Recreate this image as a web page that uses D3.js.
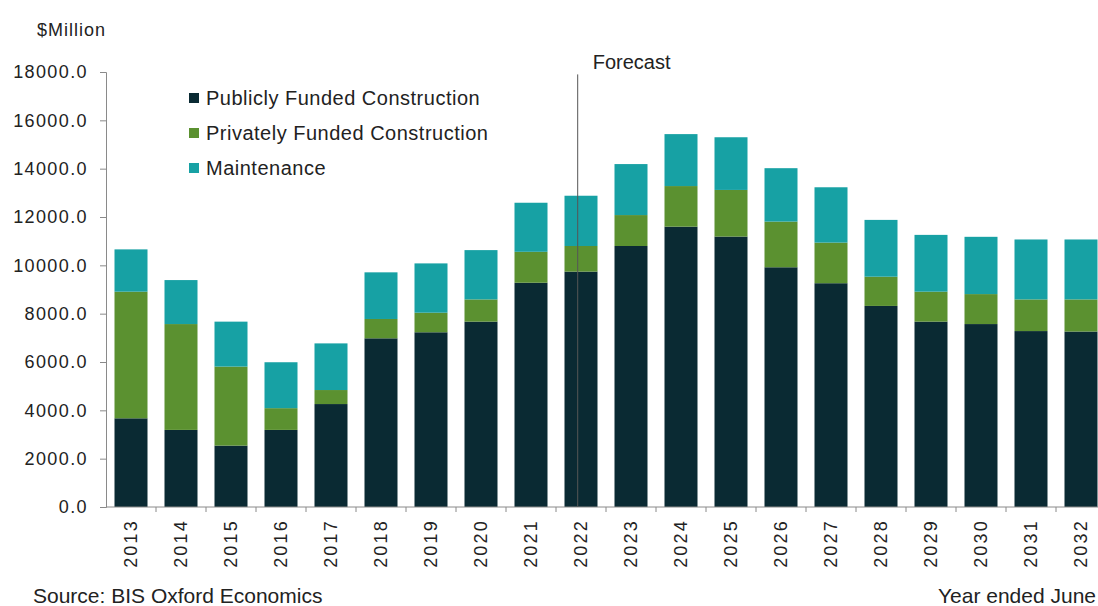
<!DOCTYPE html>
<html>
<head>
<meta charset="utf-8">
<script src="https://cdn.jsdelivr.net/npm/d3@7"></script>
<style>
  body { margin: 0; background: #fff; }
  svg { display: block; font-family: "Liberation Sans", Arial, sans-serif; }
</style>
</head>
<body>
<div id="chart"></div>
<script>
const WIDTH = 1098;
const HEIGHT = 606;
const MARGIN = { top: 72, right: -8, bottom: 99, left: 106 };

// data, $Million
const years = ["2013", "2014", "2015", "2016", "2017", "2018", "2019", "2020", "2021", "2022",
  "2023", "2024", "2025", "2026", "2027", "2028", "2029", "2030", "2031", "2032"];
const publicFunded = [3670, 3190, 2540, 3190, 4260, 6980, 7230, 7670, 9280, 9740,
  10800, 11600, 11190, 9920, 9260, 8320, 7670, 7570, 7280, 7260];
const privateFunded = [5240, 4380, 3270, 900, 580, 800, 810, 920, 1280, 1060,
  1280, 1680, 1930, 1890, 1680, 1210, 1240, 1240, 1310, 1330];
const maintenance = [1750, 1820, 1860, 1900, 1930, 1930, 2040, 2040, 2030, 2080,
  2110, 2150, 2180, 2210, 2290, 2350, 2350, 2370, 2480, 2480];
const seriesNames = ["Publicly Funded Construction", "Privately Funded Construction", "Maintenance"];
const seriesColors = ["#0a2a33", "#5b9130", "#17a1a4"];
const yTicks = [0, 2000, 4000, 6000, 8000, 10000, 12000, 14000, 16000, 18000];
const forecastYear = "2022";

const rows = years.map((y, i) => ({
  year: y,
  pub: publicFunded[i],
  priv: privateFunded[i],
  maint: maintenance[i],
}));

const svg = d3.select("#chart").append("svg")
  .attr("width", WIDTH).attr("height", HEIGHT);

const xScale = d3.scaleBand()
  .domain(years)
  .range([MARGIN.left, MARGIN.left + 50 * years.length])
  .paddingInner(0.34)
  .paddingOuter(0.17);

const yScale = d3.scaleLinear()
  .domain([0, 18000])
  .range([HEIGHT - MARGIN.bottom, MARGIN.top]);

// stacked bars
const stack = d3.stack().keys(["pub", "priv", "maint"]);
const layers = stack(rows);

svg.append("g").selectAll("g")
  .data(layers)
  .join("g")
  .attr("fill", (d, i) => seriesColors[i])
  .selectAll("rect")
  .data((d) => d)
  .join("rect")
  .attr("x", (d) => xScale(d.data.year))
  .attr("y", (d) => yScale(d[1]))
  .attr("width", xScale.bandwidth())
  .attr("height", (d) => yScale(d[0]) - yScale(d[1]));

// y axis
const yAxis = svg.append("g")
  .attr("transform", `translate(${MARGIN.left},0)`)
  .call(d3.axisLeft(yScale).tickValues(yTicks).tickFormat(d3.format(".1f")).tickSize(6).tickPadding(12));
yAxis.select(".domain").attr("stroke", "#8a8a8a");
yAxis.selectAll(".tick line").attr("stroke", "#8a8a8a");
yAxis.selectAll(".tick text")
  .attr("font-size", 18)
  .attr("letter-spacing", 1.4)
  .attr("fill", "#222");

// x axis: ticks sit between the bars
const xAxisG = svg.append("g")
  .attr("transform", `translate(0,${yScale(0)})`);
xAxisG.append("line")
  .attr("x1", MARGIN.left).attr("x2", WIDTH)
  .attr("stroke", "#8a8a8a");
xAxisG.selectAll("line.tk")
  .data(years)
  .join("line")
  .attr("class", "tk")
  .attr("x1", (d) => xScale(d) + xScale.bandwidth() + xScale.step() * xScale.paddingInner() / 2)
  .attr("x2", (d) => xScale(d) + xScale.bandwidth() + xScale.step() * xScale.paddingInner() / 2)
  .attr("y2", 5)
  .attr("stroke", "#8a8a8a");
xAxisG.selectAll("text")
  .data(years)
  .join("text")
  .attr("transform", (d) => `translate(${xScale(d) + xScale.bandwidth() / 2 + 6},12) rotate(-90)`)
  .attr("text-anchor", "end")
  .attr("font-size", 18)
  .attr("letter-spacing", 2.2)
  .attr("fill", "#222")
  .text((d) => d);

// forecast marker
const fx = xScale(forecastYear) + xScale.bandwidth() * 0.4;
svg.append("line")
  .attr("x1", fx).attr("x2", fx)
  .attr("y1", yScale(17900)).attr("y2", yScale(0))
  .attr("stroke", "#555")
  .attr("stroke-width", 1);
svg.append("text")
  .attr("x", fx + 15).attr("y", 69)
  .attr("font-size", 20)
  .attr("fill", "#222")
  .text("Forecast");

// legend
const legend = svg.append("g").attr("transform", "translate(189,98)");
seriesNames.forEach((name, i) => {
  const row = legend.append("g").attr("transform", `translate(0,${i * 35})`);
  row.append("rect")
    .attr("x", 0).attr("y", -5)
    .attr("width", 10).attr("height", 10)
    .attr("fill", seriesColors[i]);
  row.append("text")
    .attr("x", 17).attr("y", 7)
    .attr("font-size", 20)
    .attr("letter-spacing", 0.5)
    .attr("fill", "#222")
    .text(name);
});

// unit label and footer
svg.append("text")
  .attr("x", 37).attr("y", 36)
  .attr("font-size", 18)
  .attr("letter-spacing", 1)
  .attr("fill", "#222")
  .text("$Million");
svg.append("text")
  .attr("x", 33).attr("y", 603)
  .attr("font-size", 21)
  .attr("fill", "#222")
  .text("Source: BIS Oxford Economics");
svg.append("text")
  .attr("x", WIDTH - 2).attr("y", 603)
  .attr("text-anchor", "end")
  .attr("font-size", 21)
  .attr("fill", "#222")
  .text("Year ended June");
</script>
</body>
</html>
